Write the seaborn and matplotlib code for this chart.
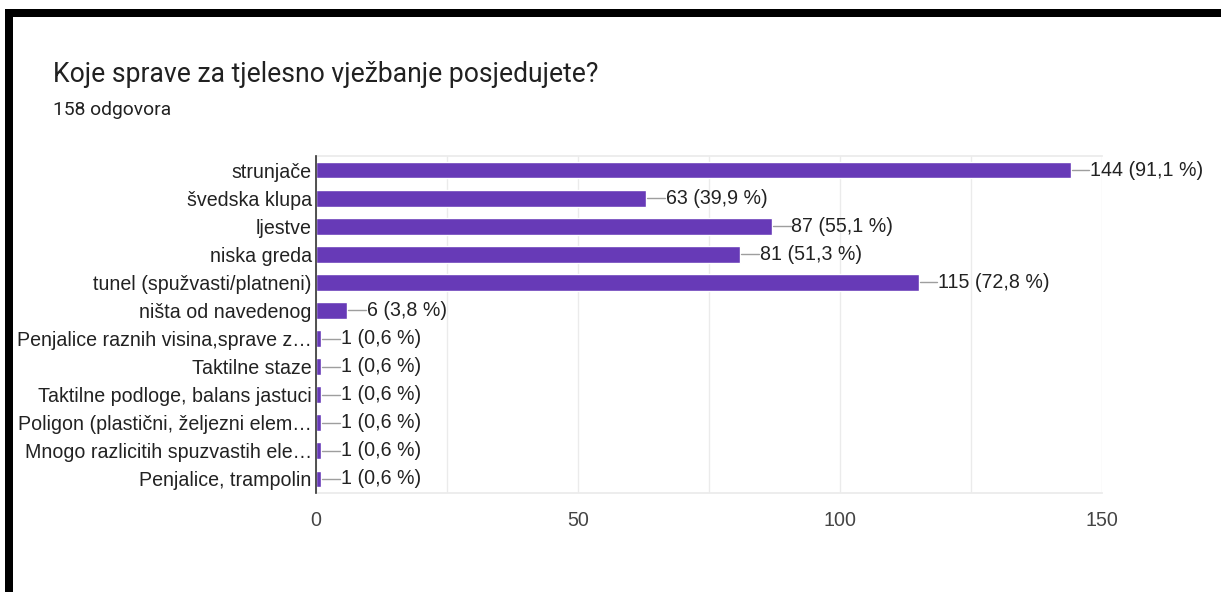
import pandas as pd
import seaborn as sns
import matplotlib.pyplot as plt

categories = ['strunjače', 'švedska klupa', 'ljestve', 'niska greda',
              'tunel (spužvasti/platneni)', 'ništa od navedenog',
              'Penjalice raznih visina,sprave z…', 'Taktilne staze',
              'Taktilne podloge, balans jastuci', 'Poligon (plastični, željezni elem…',
              'Mnogo razlicitih spuzvastih ele…', 'Penjalice, trampolin']
counts = [144, 63, 87, 81, 115, 6, 1, 1, 1, 1, 1, 1]
percents = ['91,1', '39,9', '55,1', '51,3', '72,8', '3,8', '0,6', '0,6', '0,6', '0,6', '0,6', '0,6']
xticks = [0, 50, 100, 150]
title = 'Koje sprave za tjelesno vježbanje posjedujete?'
subtitle = '158 odgovora'

df = pd.DataFrame({'item': categories, 'count': counts})

sns.set_theme(style='white')
plt.rcParams['font.family'] = ['Liberation Sans', 'DejaVu Sans']
chart_fs = 14.1

fig = plt.figure(figsize=(12.21, 5.92), dpi=100)
ax = fig.add_axes([316 / 1221, 1 - 493 / 592, 786 / 1221, 337 / 592])

sns.barplot(data=df, x='count', y='item', orient='h', color='#673ab7',
            saturation=1, width=0.6, ax=ax, zorder=3)

ax.set_xlim(0, 150)
ax.set_ylim(len(categories) - 0.5, -0.5)
ax.set_xticks(xticks)
ax.set_xticks([25, 75, 125], minor=True)
ax.grid(axis='x', which='both', color='#ebebeb', linewidth=1, zorder=0)
ax.set_xlabel('')
ax.set_ylabel('')
ax.tick_params(axis='x', length=0, pad=13, labelsize=chart_fs, labelcolor='#444444')
ax.tick_params(axis='x', which='minor', length=0)
ax.tick_params(axis='y', length=0, pad=3, labelsize=chart_fs, labelcolor='#222222')

for side in ['top', 'bottom']:
    ax.spines[side].set_color('#ebebeb')
ax.spines['right'].set_visible(False)
ax.spines['left'].set_color('#333333')
ax.spines['left'].set_linewidth(1.2)
ax.spines['left'].set_zorder(5)

# value labels with a short connector line
for i, (c, p) in enumerate(zip(counts, percents)):
    ax.plot([c + 0.2, c + 3.6], [i, i], color='#9e9e9e', linewidth=1, zorder=4,
            clip_on=False)
    ax.text(c + 3.7, i, f'{c} ({p} %)', va='center', ha='left', fontsize=chart_fs,
            color='#222222', clip_on=False)

fig.text(53 / 1221, 1 - 75 / 592, title, fontsize=19.1, color='#212121', va='center',
         family=['Roboto', 'DejaVu Sans'])
fig.text(53 / 1221, 1 - 110 / 592, subtitle, fontsize=13.9, color='#212121', va='center',
         family=['Roboto', 'DejaVu Sans'])

# black frame strips from the screenshot
fig.add_artist(plt.Rectangle((5 / 1221, 1 - 17 / 592), 1216 / 1221, 8 / 592,
                             transform=fig.transFigure, facecolor='black',
                             linewidth=0))
fig.add_artist(plt.Rectangle((5 / 1221, 0), 8 / 1221, 1 - 9 / 592,
                             transform=fig.transFigure, facecolor='black',
                             linewidth=0))

fig.savefig('out.png', dpi=100)
